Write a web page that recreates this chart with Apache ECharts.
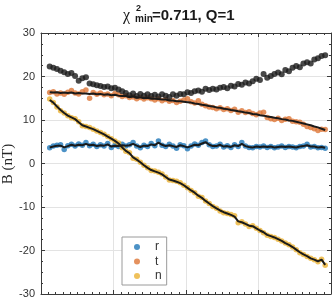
<!DOCTYPE html>
<html>
<head>
<meta charset="utf-8">
<script src="https://cdn.jsdelivr.net/npm/echarts@6/dist/echarts.min.js"></script>
<style>html,body{margin:0;padding:0;background:#fff}#c{width:332px;height:302px}</style>
</head>
<body>
<div id="c"></div>
<script>
const xs = [0.12,0.17,0.22,0.27,0.32,0.37,0.42,0.47,0.52,0.57,0.62,0.67,0.72,0.77,0.82,0.87,0.92,0.97,1.02,1.07,1.12,1.17,1.22,1.27,1.32,1.37,1.42,1.47,1.52,1.57,1.62,1.67,1.72,1.77,1.82,1.87,1.92,1.97,2.02,2.07,2.12,2.17,2.22,2.27,2.32,2.37,2.42,2.47,2.52,2.57,2.62,2.67,2.72,2.77,2.82,2.87,2.92,2.97,3.02,3.07,3.12,3.17,3.22,3.27,3.32,3.37,3.42,3.47,3.52,3.57,3.62,3.67,3.72,3.77,3.82,3.87,3.92];

const rVals = [3.6,4.0,4.2,4.3,3.2,4.1,4.4,4.0,4.5,4.2,4.8,
  4.1,4.4,3.9,4.3,4.0,4.6,3.7,4.2,3.9,4.4,
  4.0,4.3,4.8,4.0,3.6,4.2,3.9,4.6,4.1,5.2,
  4.2,3.9,4.4,4.0,3.5,4.3,4.1,3.4,4.0,4.5,
  4.2,4.8,5.2,4.3,3.9,4.0,4.4,3.8,4.1,3.7,
  4.3,3.9,4.8,4.0,3.7,3.6,3.9,3.8,4.0,3.7,
  3.9,3.6,3.8,4.0,3.7,3.9,3.8,3.6,3.9,4.0,
  4.4,3.8,3.9,3.6,3.7,3.5];
const tVals = [16.3,16.5,16.0,16.2,15.9,16.4,16.8,16.2,16.0,16.5,16.9,
  15.0,16.3,15.9,16.2,15.8,16.0,15.6,16.1,15.8,15.4,
  15.6,15.2,15.3,14.9,15.2,14.8,15.1,14.9,14.6,14.9,
  14.4,14.7,14.3,14.5,14.0,14.3,14.6,14.9,14.2,13.9,
  14.4,13.6,13.3,13.0,12.9,12.6,12.8,12.4,12.6,12.2,
  12.5,11.8,12.1,11.7,11.9,11.5,11.2,11.6,11.8,10.6,
  10.3,10.1,10.4,9.9,10.2,10.3,9.7,9.6,9.5,9.0,
  8.5,8.3,8.0,7.6,7.9,7.8];
const nVals = [14.8,14.0,13.0,12.1,11.6,11.0,10.5,10.3,9.6,8.7,8.5,
  8.3,7.9,7.5,7.1,6.7,6.2,5.7,5.2,4.7,3.6,
  2.8,2.5,1.2,1.0,0.3,-0.4,-1.0,-1.6,-1.7,-2.0,
  -2.4,-3.1,-3.8,-3.9,-4.1,-4.4,-5.0,-5.6,-6.2,-6.7,
  -7.5,-7.8,-8.6,-9.2,-9.9,-10.3,-10.9,-11.3,-11.5,-11.7,
  -12.0,-13.6,-13.4,-13.9,-14.5,-14.3,-14.9,-15.4,-15.9,-16.5,
  -16.8,-17.0,-17.4,-17.8,-18.3,-18.7,-19.2,-19.8,-20.5,-20.9,
  -21.4,-21.8,-22.1,-22.6,-22.0,-23.4];
const bVals = [22.3,22.0,21.7,21.3,21.0,20.6,20.8,20.1,19.0,19.6,19.8,
  18.4,18.2,18.0,17.8,17.6,17.7,17.3,17.4,17.0,16.6,
  16.2,15.7,16.1,15.5,16.0,15.6,15.9,15.5,15.8,15.4,
  15.9,15.6,15.3,15.9,15.6,16.0,15.9,16.4,16.2,16.6,
  16.8,16.5,17.2,16.9,17.2,17.0,17.4,17.6,17.3,17.9,
  17.7,18.3,18.1,18.6,18.4,18.9,19.5,19.2,20.6,19.7,
  20.1,20.6,20.9,20.5,21.5,21.2,22.0,22.4,22.1,23.0,
  23.3,23.0,23.9,24.2,24.7,24.9];

const rFit = [3.7,3.9,4.1,4.1,3.7,4.0,4.3,4.1,4.3,4.2,4.5,
  4.2,4.3,4.0,4.2,4.1,4.4,3.9,4.1,4.0,4.2,
  4.1,4.2,4.5,4.1,3.8,4.1,4.0,4.4,4.2,4.8,
  4.3,4.0,4.2,4.0,3.8,4.2,4.0,3.7,4.0,4.3,
  4.2,4.6,4.9,4.3,4.0,4.0,4.3,3.9,4.0,3.8,
  4.2,4.0,4.5,4.0,3.8,3.7,3.9,3.8,3.9,3.8,
  3.9,3.7,3.8,3.9,3.8,3.9,3.8,3.7,3.9,4.0,
  4.2,3.9,3.9,3.7,3.8,3.6];
const tFit = [16.4,16.3,16.4,16.2,16.3,16.2,16.3,16.1,16.2,16.1,16.1,
  16.0,16.1,15.9,16.0,15.8,15.9,15.7,15.8,15.6,15.5,
  15.5,15.3,15.4,15.2,15.2,15.0,15.1,14.9,14.9,14.8,
  14.7,14.7,14.5,14.5,14.3,14.3,14.2,14.1,14.0,13.8,
  13.7,13.5,13.4,13.2,13.1,12.9,12.8,12.6,12.5,12.3,
  12.2,12.0,11.9,11.7,11.6,11.4,11.3,11.1,11.0,10.8,
  10.7,10.5,10.4,10.2,10.1,9.9,9.8,9.6,9.4,9.2,
  9.0,8.8,8.5,8.3,8.0,7.7];
const nFit = [14.6,14.0,13.1,12.3,11.6,11.0,10.6,10.2,9.5,8.8,8.5,
  8.2,7.9,7.5,7.1,6.7,6.2,5.7,5.2,4.6,3.7,
  2.9,2.4,1.4,0.9,0.3,-0.4,-1.0,-1.5,-1.8,-2.1,
  -2.5,-3.1,-3.7,-3.9,-4.2,-4.5,-5.0,-5.6,-6.2,-6.7,
  -7.4,-7.9,-8.6,-9.2,-9.8,-10.3,-10.8,-11.2,-11.5,-11.8,
  -12.2,-13.3,-13.5,-13.9,-14.3,-14.4,-14.9,-15.4,-15.8,-16.4,
  -16.7,-17.0,-17.4,-17.8,-18.3,-18.7,-19.2,-19.8,-20.4,-20.9,
  -21.3,-21.8,-22.1,-22.5,-22.1,-23.3];

const seriesNames = ['r','t','n'];
const seriesColors = ['#1f77b8','#dd7636','#ebb232'];
const yTicks = [-30,-20,-10,0,10,20,30];

const pair = v => xs.map((x,i)=>[x,v[i]]);
const axisCol = '#3a3a3a';
const font = '"Liberation Sans", Arial, Helvetica, sans-serif';

const chart = echarts.init(document.getElementById('c'), null, {renderer:'canvas'});

function scatter(name, vals, color){
  return {name, type:'scatter', data: pair(vals), symbol:'circle', symbolSize:5.5,
    itemStyle:{color}, xAxisIndex:0, yAxisIndex:0, animation:false, z:2};
}
function fit(vals){
  return {type:'line', data: pair(vals), showSymbol:false, symbol:'none',
    lineStyle:{color:'#1a1a1a', width:2}, xAxisIndex:0, yAxisIndex:0, animation:false, z:4, silent:true};
}
const xBase = {type:'value', min:0, max:4, interval:1,
  axisLine:{show:true, onZero:false, lineStyle:{color:axisCol, width:1}},
  axisTick:{show:true, inside:true, length:4, lineStyle:{color:axisCol, width:1}},
  minorTick:{show:true, splitNumber:10, length:2, lineStyle:{color:axisCol, width:1}},
  axisLabel:{show:false}};
const yBase = {type:'value', min:yTicks[0], max:yTicks[yTicks.length-1], interval:10,
  axisLine:{show:true, onZero:false, lineStyle:{color:axisCol, width:1}},
  axisTick:{show:true, inside:true, length:4, lineStyle:{color:axisCol, width:1}},
  minorTick:{show:true, splitNumber:4, length:2, lineStyle:{color:axisCol, width:1}}};

chart.setOption({
  animation:false,
  backgroundColor:'#fff',
  grid:{left:41, right:1, top:33, bottom:8, containLabel:false},
  xAxis:[
    Object.assign({}, xBase, {position:'bottom', splitLine:{show:true, lineStyle:{color:'#e3e3e3', width:1}}}),
    Object.assign({}, xBase, {position:'top', splitLine:{show:false}})
  ],
  yAxis:[
    Object.assign({}, yBase, {position:'left',
      axisLabel:{show:true, margin:6, fontSize:11, color:'#333', fontFamily:font},
      splitLine:{show:true, lineStyle:{color:'#e3e3e3', width:1}}}),
    Object.assign({}, yBase, {position:'right', axisLabel:{show:false}, splitLine:{show:false}})
  ],
  legend:{
    data: seriesNames, orient:'vertical', left:122, top:237,
    padding:[3,5,2,12], itemGap:0.5, itemWidth:26, itemHeight:6,
    backgroundColor:'#fff', borderColor:'#9a9a9a', borderWidth:1, borderRadius:0,
    textStyle:{fontSize:12, color:'#333', fontFamily:font, lineHeight:14}
  },
  graphic:[
    {type:'text', x:123, y:16, style:{text:'\u03c7', font:'16px "Liberation Serif", serif', fill:'#1a1a1a', align:'left', verticalAlign:'middle'}},
    {type:'text', x:136, y:9, style:{text:'2', font:'bold 9px '+font, fill:'#1a1a1a', align:'left', verticalAlign:'middle'}},
    {type:'text', x:135, y:19.5, style:{text:'min', font:'bold 10px '+font, fill:'#1a1a1a', align:'left', verticalAlign:'middle'}},
    {type:'text', x:152, y:15.5, style:{text:'=0.711, Q=1', font:'bold 15px '+font, fill:'#1a1a1a', align:'left', verticalAlign:'middle'}},
    {type:'text', x:8, y:164, rotation:Math.PI/2, style:{text:'B (nT)', font:'15px "Liberation Serif", serif', fill:'#262626', align:'center', verticalAlign:'middle'}}
  ],
  series:[
    scatter(seriesNames[0], rVals, seriesColors[0]),
    scatter(seriesNames[1], tVals, seriesColors[1]),
    scatter(seriesNames[2], nVals, seriesColors[2]),
    {name:'data', type:'scatter', data:pair(bVals), symbol:'circle', symbolSize:6, itemStyle:{color:'#1a1a1a'}, animation:false, z:3},
    fit(rFit), fit(tFit), fit(nFit)
  ]
});
</script>
</body>
</html>
